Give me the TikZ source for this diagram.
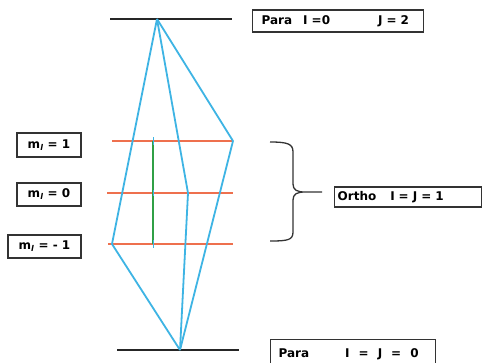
\documentclass[tikz,border=0pt]{standalone}
\usepackage{fontspec}
\setmainfont{DejaVu Sans}
\usetikzlibrary{calc,positioning}
\definecolor{lineblue}{RGB}{62,180,228}
\definecolor{levelred}{RGB}{238,112,78}
\definecolor{linegreen}{RGB}{48,160,70}
\begin{document}
\begin{tikzpicture}[x=1pt,y=-1pt,
  ground/.style={line width=2.2pt,black!85},
  level/.style={line width=2pt,levelred},
  trans/.style={line width=1.8pt,lineblue,line join=round},
  lbl/.style={draw=black!80,line width=1.3pt,font=\bfseries\fontsize{12}{14}\selectfont,inner sep=0pt,align=left}]
\clip (0,0) rectangle (482,362);
\fill[white] (0,0) rectangle (482,362);
% energy levels
\draw[ground] (110,19) coordinate (p2w) -- (232,19) coordinate (p2e);
\draw[level] (112,141) coordinate (o1w) -- (233,141) coordinate (o1e);
\draw[level] (107,193) coordinate (o0w) -- (233,193) coordinate (o0e);
\draw[level] (108,244) coordinate (omw) -- (233,244) coordinate (ome);
\draw[ground] (117,350) coordinate (p0w) -- (239,350) coordinate (p0e);
\coordinate (top) at (157,19);
\coordinate (bot) at (180,350);
\coordinate (rt) at (233,141);
\coordinate (md) at (188,193);
\coordinate (lf) at (112,244);
\draw[trans] (top) -- (lf) -- (bot);
\draw[trans] (top) -- (md) -- (bot);
\draw[trans] (top) -- (rt) -- (bot);
\draw[line width=2.2pt,linegreen] (153,141) coordinate (g1) -- (153,244) coordinate (g2);
\draw[lineblue,line width=1pt] (153,137) -- (153,145) (153,190) -- (153,196) (153,240) -- (153,248);
% labels
\node[lbl,anchor=west,minimum height=22pt,text width=153pt,inner xsep=9pt] (para2) at (252,21) {Para\hspace{11pt}I =0\hspace{48pt}J = 2};
\node[lbl,minimum width=64pt,minimum height=24pt,align=center] (m1) at (49,145) {m\textsubscript{\itshape l} = 1};
\node[lbl,minimum width=64pt,minimum height=23pt,align=center] (m0) at (49,194.5) {m\textsubscript{\itshape l} = 0};
\node[lbl,minimum width=73pt,minimum height=23pt,align=center] (mm) at (44.5,246.5) {m\textsubscript{\itshape l} = - 1};
\node[lbl,anchor=west,minimum height=20pt,text width=141pt,inner xsep=3pt] (ortho) at (334,197) {Ortho\hspace{14pt}I = J = 1};
\node[lbl,anchor=north west,minimum height=30pt,text width=149pt,inner xsep=8pt] (para0) at (270,339) {Para\hspace{36pt}I\hspace{5pt} =\hspace{5pt} J\hspace{5pt} =\hspace{5pt} 0};
% brace
\draw[line width=1.3pt,black!80] (270,142) .. controls (288,142) and (293,144) .. (293,152) -- (293,184)
  .. controls (293,190) and (297,192) .. (305,192) -- (322,192) coordinate (tip)
  (305,192) .. controls (297,192) and (293,194) .. (293,200) -- (293,232)
  .. controls (293,240) and (288,241) .. (270,241);
\end{tikzpicture}
\end{document}
